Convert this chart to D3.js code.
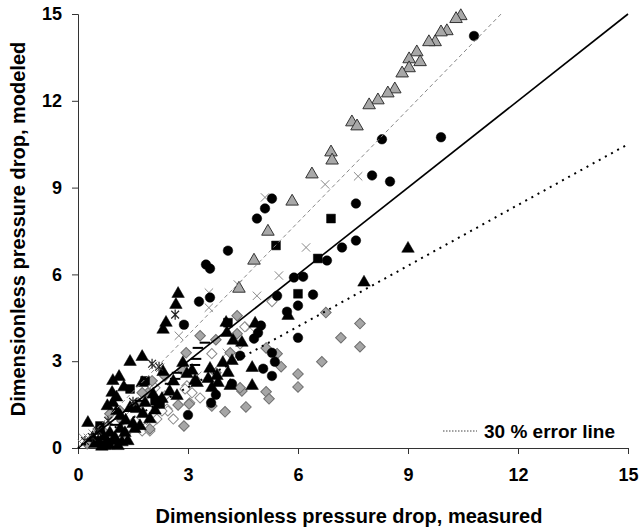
<!DOCTYPE html>
<html>
<head>
<meta charset="utf-8">
<script src="https://cdn.jsdelivr.net/npm/d3@7"></script>
<style>
  body { margin: 0; background: #fff; }
  text { font-family: "Liberation Sans", Arial, sans-serif; font-weight: bold; fill: #000; }
</style>
</head>
<body>
<div id="chart"></div>
<script>
// axis ticks
const xTicks = [0, 3, 6, 9, 12, 15];
const yTicks = [0, 3, 6, 9, 12, 15];

// [measured, modeled] pairs
const grayTriangles = [[10.44,14.93],[10.31,14.83],[10.06,14.41],[9.90,14.37],[9.74,14.03],[9.57,14.03],
  [9.24,13.68],[9.33,13.34],[9.03,13.44],[9.03,13.13],[8.84,12.95],[8.64,12.40],[8.45,12.26],[8.18,12.02],
  [7.94,11.85],[7.47,11.26],[7.61,11.12],[6.90,10.22],[6.93,9.94],[6.38,9.46],[5.84,8.52],[5.18,7.48],
  [4.80,6.48],[4.39,5.51]];

const blackCircles = [[10.80,14.24],[9.90,10.74],[8.29,10.67],[8.02,9.42],[8.51,9.21],[7.58,8.45],
  [5.29,8.62],[5.10,8.28],[4.88,7.93],[4.09,6.82],[3.49,6.34],[3.60,6.20],[3.30,5.06],[3.60,5.20],
  [2.89,4.26],[7.20,6.93],[7.58,7.17],[6.79,6.48],[5.89,5.89],[6.14,5.92],[5.43,5.26],[6.41,5.30],
  [6.00,4.92],[5.70,4.71],[4.99,4.23],[4.91,3.98],[6.00,3.81],[5.29,3.29],[5.37,2.98],[5.05,2.74],
  [5.29,2.49],[4.42,3.19],[4.80,3.78],[4.20,2.22],[3.63,1.56],[3.76,1.84],[3.00,1.14]];

const blackTriangles = [[9.00,6.89],[7.80,5.72],[5.73,4.57],[4.83,4.30],[2.73,5.33],[2.67,4.95],
  [2.40,4.33],[2.32,4.09],[4.04,4.33],[4.06,3.98],[4.23,3.71],[4.47,3.64],[4.75,2.77],[3.95,2.94],
  [4.20,3.01],[3.60,2.74],[3.79,2.49],[3.55,2.39],[3.82,2.25],[3.25,2.25],[3.11,2.67],[2.86,2.94],
  [2.97,2.56],[4.75,2.15],[4.09,2.60],[1.42,2.98],[1.75,3.15],[1.12,2.46],[0.95,2.32],[0.93,1.91],
  [1.75,2.25],[2.32,2.63],[0.27,0.87],[0.95,1.56],[1.15,1.11],[1.50,0.83],[3.65,2.08],[3.19,2.32],
  [2.70,1.80],[2.29,1.70],[4.15,2.15],[1.06,1.28],[1.42,1.39],[1.77,1.18],[1.55,0.66],[0.79,0.24],
  [1.01,0.35],[0.46,0.14],[1.36,0.24],[1.83,1.56],[0.60,0.59],[0.87,0.52],[1.15,0.66],[0.74,0.07],
  [1.09,0.07],[1.28,0.52],[1.69,0.76],[1.96,1.00],[0.55,0.20],[0.65,0.05],[2.10,1.30],[2.50,1.95],
  [0.85,0.10],[0.95,0.25],[1.20,0.20],[0.70,0.40],[1.30,0.95],[1.60,1.35],[1.05,1.75],[1.25,2.10],
  [0.80,1.45],[2.05,1.85],[2.60,2.30],[0.40,0.35]];

const grayDiamonds = [[7.69,4.30],[7.17,3.81],[7.69,3.50],[6.65,2.98],[6.00,2.56],[6.00,2.11],
  [5.13,3.46],[5.43,3.26],[5.54,2.81],[5.13,1.94],[5.21,1.70],[4.58,1.42],[4.47,1.97],[6.76,4.68],
  [4.01,1.25],[3.65,1.45],[3.03,1.52],[2.73,1.49],[2.89,0.76],[4.34,4.57],[3.33,3.88],[3.76,3.74],
  [4.34,3.95],[2.95,3.29],[4.15,3.29],[3.76,2.60],[2.84,2.70],[2.37,2.49],[2.02,2.32],[4.42,2.08],
  [1.91,1.91],[1.64,1.56],[1.15,1.28],[1.20,0.94],[0.68,0.59],[0.41,0.31],[1.96,0.66],[0.87,1.18],
  [0.68,0.31],[0.55,0.66],[1.75,1.91],[0.25,0.15]];

const blackSquares = [[6.90,7.93],[5.40,7.00],[6.54,6.55],[6.00,5.33],[4.09,4.33],[1.42,2.04],
  [2.10,1.63],[1.83,2.32],[0.60,0.76],[2.24,1.52]];

const crosses = [[7.64,9.39],[6.74,9.11],[5.10,8.66],[6.22,6.93],[5.48,5.96],[4.88,5.26],[3.57,5.37],
  [3.57,4.85],[4.36,5.65],[4.69,4.16],[2.75,3.88],[2.05,2.84],[2.24,2.77],[3.25,2.49],[4.06,3.29],
  [0.14,0.35],[0.27,0.35],[0.11,0.14],[1.28,1.11],[1.69,1.45],[0.60,0.76],[0.40,0.50],[0.85,0.95]];

const asterisks = [[2.65,4.61],[2.21,2.81],[2.02,2.91],[0.82,0.94],[0.55,0.59],[0.19,0.24],
  [0.38,0.38],[1.50,1.60]];

const openDiamonds = [[5.29,5.06],[4.55,4.19],[3.65,3.26],[3.11,1.91],[3.05,1.56],[2.43,1.35],
  [2.15,1.00],[1.83,0.69],[1.75,0.59],[1.55,0.94],[2.97,2.15],[3.33,1.73],[2.10,2.08],[2.37,1.80],
  [2.45,1.28],[2.29,1.28],[2.92,2.04],[2.02,0.87],[2.15,1.63],[4.42,3.60],[1.96,0.59],[1.30,0.50],
  [0.90,0.45],[2.60,1.00]];

const dashes = [[3.27,3.46],[3.22,3.08],[3.19,2.87],[2.70,2.60],[2.65,2.39],[2.51,2.22],[1.69,1.63],
  [1.42,1.28],[3.46,3.64],[1.00,0.80]];

const margin = { top: 14, right: 12, bottom: 83, left: 78 };
const W = 640, H = 531;
const width = W - margin.left - margin.right;
const height = H - margin.top - margin.bottom;

const svg = d3.select('#chart').append('svg')
  .attr('width', W)
  .attr('height', H);

const g = svg.append('g')
  .attr('transform', `translate(${margin.left},${margin.top})`);

const x = d3.scaleLinear().domain([0, 15]).range([0, width]);
const y = d3.scaleLinear().domain([0, 15]).range([height, 0]);

// axes
const xAxis = g.append('g')
  .attr('transform', `translate(0,${height})`)
  .call(d3.axisBottom(x).tickValues(xTicks).tickSize(6).tickPadding(14));
const yAxis = g.append('g')
  .call(d3.axisLeft(y).tickValues(yTicks).tickSize(6).tickPadding(10));

[xAxis, yAxis].forEach(a => {
  a.select('.domain').attr('stroke', '#333');
  a.selectAll('.tick line').attr('stroke', '#333');
  a.selectAll('.tick text')
    .style('font-family', '"Liberation Sans", Arial, sans-serif')
    .style('font-weight', 'bold')
    .style('font-size', '18px')
    .attr('fill', '#000');
});

// custom marker shapes
const timesShape = {
  draw(ctx, size) {
    const r = Math.sqrt(size) / 2;
    ctx.moveTo(-r, -r); ctx.lineTo(r, r);
    ctx.moveTo(r, -r); ctx.lineTo(-r, r);
  }
};
const asteriskShape = {
  draw(ctx, size) {
    const r = Math.sqrt(size) / 2;
    ctx.moveTo(-r, -r); ctx.lineTo(r, r);
    ctx.moveTo(r, -r); ctx.lineTo(-r, r);
    ctx.moveTo(0, -r * 1.3); ctx.lineTo(0, r * 1.3);
  }
};
const dashShape = {
  draw(ctx, size) {
    const r = Math.sqrt(size) / 2;
    ctx.moveTo(-r, 0); ctx.lineTo(r, 0);
  }
};

const series = [
  { data: openDiamonds, type: d3.symbolSquare, size: 52, rot: 45, fill: '#fff', stroke: '#8a8a8a', sw: 1 },
  { data: crosses, type: timesShape, size: 70, rot: 0, fill: 'none', stroke: '#888', sw: 1 },
  { data: grayDiamonds, type: d3.symbolSquare, size: 56, rot: 45, fill: '#a6a6a6', stroke: '#6e6e6e', sw: 1 },
  { data: blackTriangles, type: d3.symbolTriangle, size: 68, rot: 0, fill: '#000', stroke: '#000', sw: 0.5 },
  { data: blackCircles, type: d3.symbolCircle, size: 72, rot: 0, fill: '#000', stroke: '#000', sw: 0.5 },
  { data: blackSquares, type: d3.symbolSquare, size: 78, rot: 0, fill: '#000', stroke: '#000', sw: 0.5 },
  { data: asterisks, type: asteriskShape, size: 60, rot: 0, fill: 'none', stroke: '#222', sw: 1.2 },
  { data: dashes, type: dashShape, size: 110, rot: 0, fill: 'none', stroke: '#000', sw: 2 },
  { data: grayTriangles, type: d3.symbolTriangle, size: 68, rot: 0, fill: '#a8a8a8', stroke: '#333', sw: 1 }
];

series.forEach(s => {
  g.append('g')
    .selectAll('path')
    .data(s.data)
    .enter()
    .append('path')
    .attr('d', d3.symbol().type(s.type).size(s.size))
    .attr('transform', d => `translate(${x(d[0])},${y(d[1])}) rotate(${s.rot})`)
    .attr('fill', s.fill)
    .attr('stroke', s.stroke)
    .attr('stroke-width', s.sw);
});

// reference lines: perfect agreement, +30 % and -30 %
const line = d3.line()
  .x(d => x(d[0]))
  .y(d => y(d[1]));

g.append('path')
  .datum([[0, 0], [15, 15]])
  .attr('d', line)
  .style('fill', 'none')
  .style('stroke', '#000')
  .style('stroke-width', 1.6);

g.append('path')
  .datum([[0, 0], [15 / 1.3, 15]])
  .attr('d', line)
  .style('fill', 'none')
  .style('stroke', '#888')
  .style('stroke-width', 1)
  .style('stroke-dasharray', '4,3');

g.append('path')
  .datum([[0, 0], [15, 15 * 0.7]])
  .attr('d', line)
  .style('fill', 'none')
  .style('stroke', '#000')
  .style('stroke-width', 2)
  .style('stroke-dasharray', '2,5');

// legend
svg.append('line')
  .attr('x1', 443).attr('x2', 477)
  .attr('y1', 431).attr('y2', 431)
  .attr('stroke', '#444')
  .attr('stroke-width', 1)
  .attr('stroke-dasharray', '1.5,1.5');
svg.append('text')
  .attr('x', 484).attr('y', 438)
  .style('font-size', '19px')
  .text('30 % error line');

// axis titles
svg.append('text')
  .attr('x', 349).attr('y', 523)
  .attr('text-anchor', 'middle')
  .style('font-size', '20px')
  .text('Dimensionless pressure drop, measured');

svg.append('text')
  .attr('transform', 'translate(25,229) rotate(-90)')
  .attr('text-anchor', 'middle')
  .style('font-size', '20px')
  .text('Dimensionless pressure drop, modeled');
</script>
</body>
</html>
